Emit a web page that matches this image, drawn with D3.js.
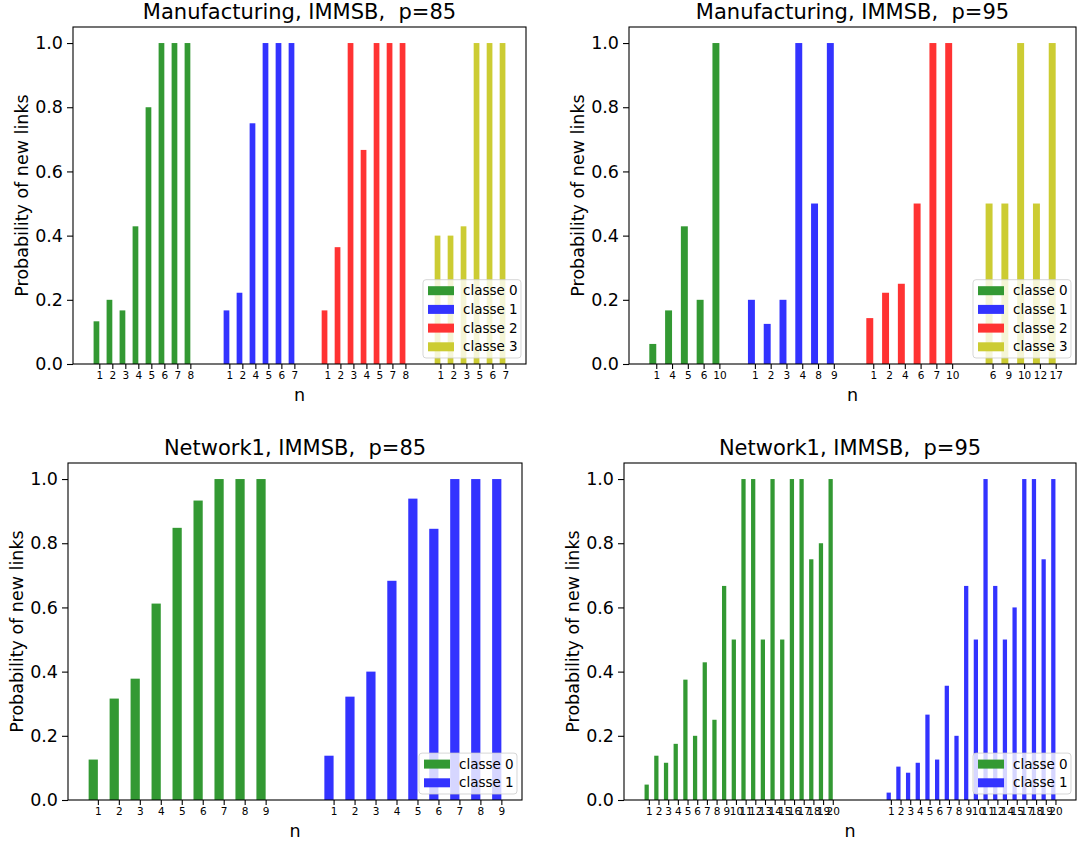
<!DOCTYPE html>
<html lang="en">
<head>
    <meta charset="UTF-8">
    <title>Probability of new links</title>
    <script src="https://d3js.org/d3.v7.min.js"></script>
    <style>
        body {
            margin: 0;
            background: #fff;
            font-family: "DejaVu Sans", sans-serif;
        }
        text {
            font-family: "DejaVu Sans", sans-serif;
            fill: #000;
            white-space: pre;
        }
    </style>
</head>
<body>
    <div id="chart"></div>
    <script>
        // titles of the four panels
        const titles = [
            "Manufacturing, IMMSB,  p=85",
            "Manufacturing, IMMSB,  p=95",
            "Network1, IMMSB,  p=85",
            "Network1, IMMSB,  p=95"
        ];

        const classNames = ["classe 0", "classe 1", "classe 2", "classe 3"];
        const classColors = ["#339933", "#3333ff", "#ff3333", "#cccc33"];

        // Manufacturing p=85 : tick labels (n) and values per class
        const mfg85Labels = [
            [1, 2, 3, 4, 5, 6, 7, 8],
            [1, 2, 4, 5, 6, 7],
            [1, 2, 3, 4, 5, 7, 8],
            [1, 2, 3, 5, 6, 7]
        ];
        const mfg85Values = [
            [0.133, 0.2, 0.167, 0.429, 0.8, 1.0, 1.0, 1.0],
            [0.167, 0.222, 0.75, 1.0, 1.0, 1.0],
            [0.167, 0.364, 1.0, 0.667, 1.0, 1.0, 1.0],
            [0.4, 0.4, 0.429, 1.0, 1.0, 1.0]
        ];

        // Manufacturing p=95
        const mfg95Labels = [
            [1, 4, 5, 6, 10],
            [1, 2, 3, 4, 8, 9],
            [1, 2, 4, 6, 7, 10],
            [6, 9, 10, 12, 17]
        ];
        const mfg95Values = [
            [0.0625, 0.167, 0.429, 0.2, 1.0],
            [0.2, 0.125, 0.2, 1.0, 0.5, 1.0],
            [0.143, 0.222, 0.25, 0.5, 1.0, 1.0],
            [0.5, 0.5, 1.0, 0.5, 1.0]
        ];

        // Network1 p=85
        const net85Labels = [
            [1, 2, 3, 4, 5, 6, 7, 8, 9],
            [1, 2, 3, 4, 5, 6, 7, 8, 9]
        ];
        const net85Values = [
            [0.126, 0.316, 0.378, 0.612, 0.848, 0.933, 1.0, 1.0, 1.0],
            [0.138, 0.322, 0.4, 0.683, 0.939, 0.845, 1.0, 1.0, 1.0]
        ];

        // Network1 p=95
        const net95Labels = [
            [1, 2, 3, 4, 5, 6, 7, 8, 9, 10, 11, 12, 13, 14, 15, 16, 17, 18, 19, 20],
            [1, 2, 3, 4, 5, 6, 7, 8, 9, 10, 11, 12, 14, 15, 17, 18, 19, 20]
        ];
        const net95Values = [
            [0.048, 0.138, 0.116, 0.175, 0.375, 0.2, 0.429, 0.25, 0.667, 0.5,
             1.0, 1.0, 0.5, 1.0, 0.5, 1.0, 1.0, 0.75, 0.8, 1.0],
            [0.023, 0.104, 0.085, 0.116, 0.266, 0.126, 0.356, 0.2, 0.667, 0.5,
             1.0, 0.667, 0.5, 0.6, 1.0, 1.0, 0.75, 1.0]
        ];

        const yTicks = [0, 0.2, 0.4, 0.6, 0.8, 1.0];

        // layout of each panel (pixel box + empty slots between groups)
        const panels = [
            { labels: mfg85Labels, values: mfg85Values, box: [73, 27, 526, 364], gaps: [3, 2.54, 2.69] },
            { labels: mfg95Labels, values: mfg95Values, box: [629, 27, 1076, 364], gaps: [2.25, 2.5, 2.56] },
            { labels: net85Labels, values: net85Values, box: [68, 463, 522, 800], gaps: [3.24] },
            { labels: net95Labels, values: net95Values, box: [624, 463, 1076, 800], gaps: [6] }
        ];

        const W = 1078, H = 843;
        const barW = 0.44;

        const svg = d3.select("#chart")
            .append("svg")
            .attr("width", W)
            .attr("height", H);

        panels.forEach((p, pi) => {
            const [x0, y0, x1, y1] = p.box;

            // bar positions: consecutive slots per class, separated by gaps
            const bars = [];
            let start = 0;
            p.values.forEach((vals, g) => {
                vals.forEach((v, i) => {
                    bars.push({ pos: start + i, value: v, label: p.labels[g][i], cls: g });
                });
                start += vals.length - 1 + (p.gaps[g] || 0);
            });

            const lo = d3.min(bars, d => d.pos) - barW / 2;
            const hi = d3.max(bars, d => d.pos) + barW / 2;
            const pad = (hi - lo) * 0.05;

            const x = d3.scaleLinear().domain([lo - pad, hi + pad]).range([x0, x1]);
            const y = d3.scaleLinear().domain([0, 1.05]).range([y1, y0]);

            const g = svg.append("g");

            g.selectAll("rect.bar")
                .data(bars)
                .enter()
                .append("rect")
                .attr("class", "bar")
                .attr("x", d => x(d.pos - barW / 2))
                .attr("width", d => x(d.pos + barW / 2) - x(d.pos - barW / 2))
                .attr("y", d => y(d.value))
                .attr("height", d => y(0) - y(d.value))
                .attr("fill", d => classColors[d.cls]);

            // y axis
            const yAxis = d3.axisLeft(y)
                .tickValues(yTicks)
                .tickFormat(d3.format(".1f"))
                .tickSize(6)
                .tickPadding(4);
            const ya = g.append("g")
                .attr("transform", `translate(${x0},0)`)
                .call(yAxis);
            ya.select(".domain").remove();
            ya.selectAll("text").style("font-size", "17.5px");
            ya.selectAll("line").attr("stroke", "#000").attr("stroke-width", 1.1);

            // x axis: ticks at the right edge of each bar
            const xAxis = d3.axisBottom(x)
                .tickValues(bars.map(d => d.pos + barW / 2))
                .tickFormat((d, i) => bars[i].label)
                .tickSize(5)
                .tickPadding(3);
            const xa = g.append("g")
                .attr("transform", `translate(0,${y1})`)
                .call(xAxis);
            xa.select(".domain").remove();
            xa.selectAll("text").style("font-size", "10.5px");
            xa.selectAll("line").attr("stroke", "#000").attr("stroke-width", 1.1);

            // frame
            g.append("rect")
                .attr("x", x0)
                .attr("y", y0)
                .attr("width", x1 - x0)
                .attr("height", y1 - y0)
                .attr("fill", "none")
                .attr("stroke", "#000")
                .attr("stroke-width", 1.1);

            // title and axis labels
            g.append("text")
                .attr("x", (x0 + x1) / 2)
                .attr("y", y0 - 8)
                .attr("text-anchor", "middle")
                .style("font-size", "21px")
                .text(titles[pi]);

            g.append("text")
                .attr("x", (x0 + x1) / 2)
                .attr("y", y1 + 37)
                .attr("text-anchor", "middle")
                .style("font-size", "17.5px")
                .text("n");

            g.append("text")
                .attr("transform", `translate(${x0 - 45},${(y0 + y1) / 2}) rotate(-90)`)
                .attr("text-anchor", "middle")
                .style("font-size", "17.5px")
                .text("Probability of new links");

            // legend, lower right
            const nCls = p.values.length;
            const rowH = 18.7;
            const lw = 98, lh = nCls * rowH + 3.5;
            const lx = x1 - 5 - lw, ly = y1 - 6 - lh;
            const legend = g.append("g").attr("transform", `translate(${lx},${ly})`);
            legend.append("rect")
                .attr("width", lw)
                .attr("height", lh)
                .attr("rx", 3)
                .attr("fill", "rgba(255,255,255,0.8)")
                .attr("stroke", "rgba(204,204,204,0.8)");
            d3.range(nCls).forEach(k => {
                const row = legend.append("g").attr("transform", `translate(0,${11 + k * rowH})`);
                row.append("rect")
                    .attr("x", 5)
                    .attr("y", -4.5)
                    .attr("width", 26)
                    .attr("height", 9)
                    .attr("fill", classColors[k]);
                row.append("text")
                    .attr("x", 40)
                    .attr("y", 4.5)
                    .style("font-size", "13.5px")
                    .text(classNames[k]);
            });
        });
    </script>
</body>
</html>
